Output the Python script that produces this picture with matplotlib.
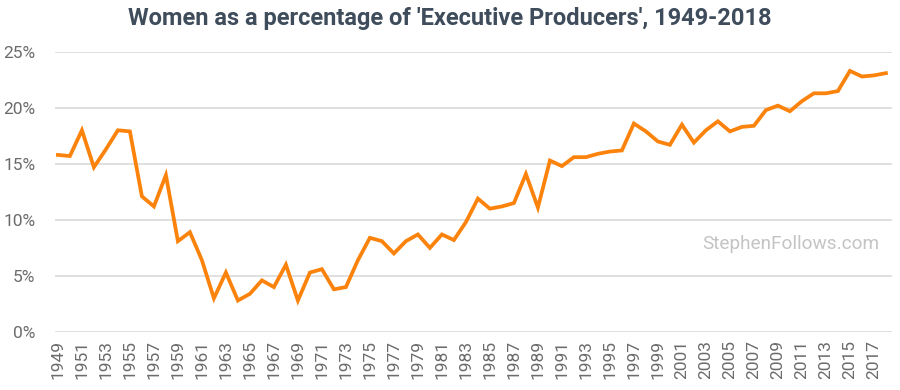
import numpy as np
import matplotlib; matplotlib.use("Agg")
import matplotlib.pyplot as plt
from matplotlib.ticker import FuncFormatter

years = list(range(1949, 2019))
pct = [15.8, 15.7, 18.0, 14.7, 16.3, 18.0, 17.9, 12.1, 11.2, 14.0,
       8.1, 8.9, 6.4, 3.0, 5.3, 2.8, 3.4, 4.6, 4.0, 6.0,
       2.8, 5.3, 5.6, 3.8, 4.0, 6.4, 8.4, 8.1, 7.0, 8.1,
       8.7, 7.5, 8.7, 8.2, 9.8, 11.9, 11.0, 11.2, 11.5, 14.1,
       11.1, 15.3, 14.8, 15.6, 15.6, 15.9, 16.1, 16.2, 18.6, 17.9,
       17.0, 16.7, 18.5, 16.9, 18.0, 18.8, 17.9, 18.3, 18.4, 19.8,
       20.2, 19.7, 20.6, 21.3, 21.3, 21.5, 23.3, 22.8, 22.9, 23.1]
yticks = [0, 5, 10, 15, 20, 25]

plt.rcParams["font.family"] = ["Roboto", "DejaVu Sans"]
fig = plt.figure(figsize=(9, 3.9), dpi=100)
ax = fig.add_axes([0.061, 0.149, 0.93, 0.718])

ax.plot(years, pct, color="#fb830c", lw=2.7, solid_joinstyle="miter", zorder=3)
ax.set_xlim(1948.75, 2018.5)
ax.set_ylim(0, 25)
ax.set_yticks(yticks)
ax.yaxis.set_major_formatter(FuncFormatter(lambda v, p: f"{v:.0f}%"))
ax.set_xticks(years[::2])
ax.set_xticklabels([str(y) for y in years[::2]], rotation=90)
ax.tick_params(length=0, colors="#6b6b6b", labelsize=12.5)
ax.tick_params(axis="y", pad=14)
ax.tick_params(axis="x", pad=6)
ax.grid(axis="y", color="#dddddd", lw=1.3)
ax.set_axisbelow(True)
for s in ax.spines.values():
    s.set_visible(False)

fig.text(0.5, 0.952, "Women as a percentage of 'Executive Producers', 1949-2018",
         ha="center", va="center", fontsize=17, fontweight="bold", color="#3e4c5b")
ax.text(0.985, 0.315, "StephenFollows.com", transform=ax.transAxes, ha="right",
        va="center", fontsize=13.7, color="#c4c4c4")

fig.savefig("out.png", dpi=100)
